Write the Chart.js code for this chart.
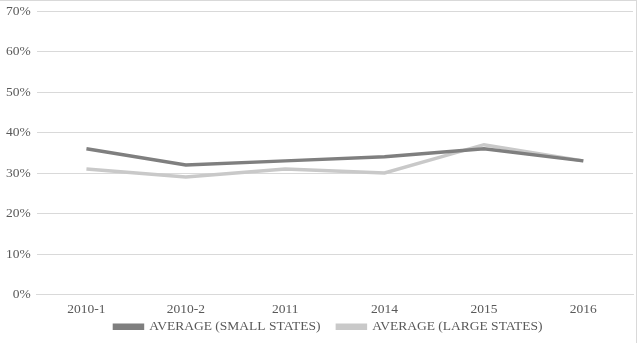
<!DOCTYPE html>
<html>
<head>
<meta charset="utf-8">
<script src="https://cdn.jsdelivr.net/npm/chart.js@4/dist/chart.umd.min.js"></script>
<style>
  body { margin: 0; background: #fff; }
  #wrap { position: relative; width: 636px; height: 342px; border-top: 1px solid #d9d9d9; border-right: 1px solid #d9d9d9; }
</style>
</head>
<body>
<div id="wrap"><canvas id="chart"></canvas></div>
<script>
const categories = ["2010-1", "2010-2", "2011", "2014", "2015", "2016"];
const smallStates = [36, 32, 33, 34, 36, 33];
const largeStates = [31, 29, 31, 30, 37, 33];

const chartCanvas = document.querySelector("#chart");

// legend keeps its wide item spacing but takes little room, and sits
// a bit to the right like the original
const legendPlace = {
  id: "legendPlace",
  afterInit(chart) {
    const fit = chart.legend.fit;
    chart.legend.fit = function () {
      fit.call(this);
      this.height = 27;
    };
  },
  afterLayout(chart) {
    const lg = chart.legend;
    lg.top -= 13;
    lg.bottom = lg.top + 48;
    lg.left += 12;
    lg.right += 12;
  },
};

const lineChart = new Chart(chartCanvas, {
  type: "line",
  data: {
    labels: categories,
    datasets: [
      {
        label: "AVERAGE (SMALL STATES)",
        data: smallStates,
        borderColor: "#7f7f7f",
        backgroundColor: "#7f7f7f",
        borderWidth: 3.5,
        pointRadius: 0,
        tension: 0,
      },
      {
        label: "AVERAGE (LARGE STATES)",
        data: largeStates,
        borderColor: "#c9c9c9",
        backgroundColor: "#c9c9c9",
        borderWidth: 3.5,
        pointRadius: 0,
        tension: 0,
      },
    ],
  },
  options: {
    responsive: true,
    maintainAspectRatio: false,
    animation: false,
    layout: { padding: { top: 0, right: 3, left: 0, bottom: 0 } },
    plugins: {
      legend: {
        position: "bottom",
        labels: {
          boxWidth: 28,
          boxHeight: 3,
          padding: 17,
          color: "#595959",
          font: { family: "Liberation Serif", size: 13.5 },
        },
      },
      tooltip: { enabled: false },
    },
    scales: {
      x: {
        offset: true,
        grid: { display: false },
        border: { color: "#d9d9d9" },
        ticks: {
          color: "#595959",
          font: { family: "Liberation Serif", size: 13.5, lineHeight: 1 },
          padding: 0,
        },
      },
      y: {
        min: 0,
        max: 70,
        grid: { color: "#d9d9d9", drawTicks: false },
        border: { display: false },
        ticks: {
          stepSize: 10,
          color: "#595959",
          padding: 6,
          font: { family: "Liberation Serif", size: 13.5, lineHeight: 0.6 },
          callback: (v) => v + "%",
        },
      },
    },
  },
  plugins: [legendPlace],
});
</script>
</body>
</html>
